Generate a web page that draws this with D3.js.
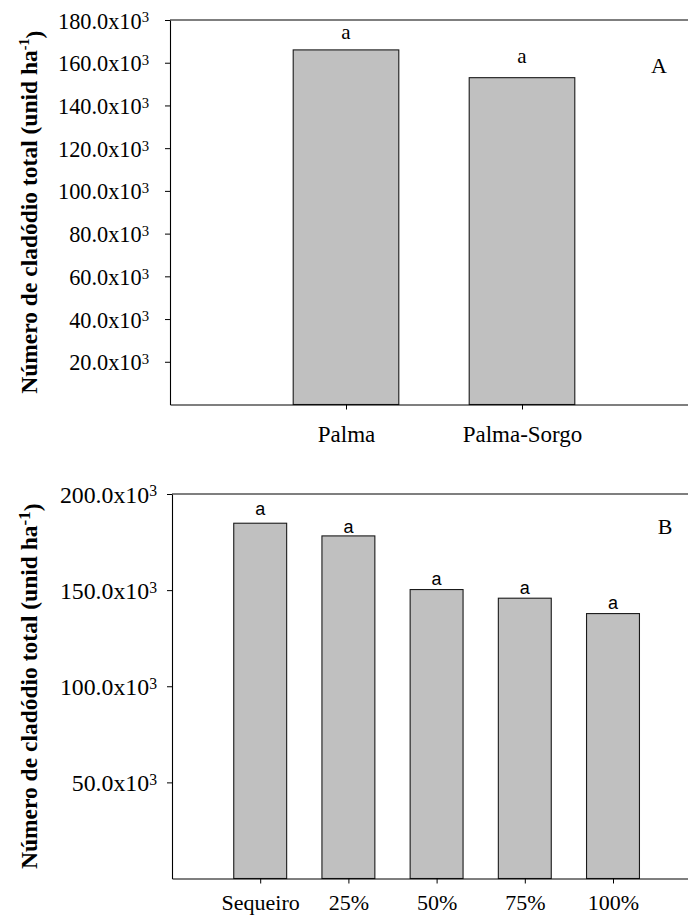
<!DOCTYPE html>
<html>
<head>
<meta charset="utf-8">
<script src="https://cdn.jsdelivr.net/npm/d3@7"></script>
<style>
  html, body { margin: 0; padding: 0; background: #fff; }
  svg { display: block; }
  .serif { font-family: "Liberation Serif", "Times New Roman", Times, serif; }
  .sans { font-family: "Liberation Sans", Arial, Helvetica, sans-serif; }
</style>
</head>
<body>
<script>
// ---------- DATA ----------
// Panel A
const catsA = ["Palma", "Palma-Sorgo"];
const valuesA = [166000, 153000];
const lettersA = ["a", "a"];
const letterAnchorA = [171000, 160000];   // data-unit anchor of the significance letters
const ticksA = [20000, 40000, 60000, 80000, 100000, 120000, 140000, 160000, 180000];
const panelA = "A";

// Panel B
const catsB = ["Sequeiro", "25%", "50%", "75%", "100%"];
const valuesB = [184800, 178200, 150300, 145800, 137800];
const lettersB = ["a", "a", "a", "a", "a"];
const letterAnchorB = [189000, 179700, 152700, 148000, 140400];
const ticksB = [50000, 100000, 150000, 200000];
const panelB = "B";

const yTitle = "Número de cladódio total (unid ha";

// ---------- DRAW ----------
const W = 688, H = 924;
const svg = d3.select("body").append("svg").attr("width", W).attr("height", H);

function fmtTick(sel, size) {
  sel.each(function(d) {
    const t = d3.select(this).text("");
    t.append("tspan").text((d / 1000).toFixed(1) + "x10");
    t.append("tspan").attr("dy", "-0.42em").attr("font-size", (size * 0.66) + "px").text("3");
  });
}

function panel(opts) {
  const g = svg.append("g");
  const x = d3.scaleLinear().domain([0, opts.cats.length + 1]).range([opts.left, opts.left + opts.step * (opts.cats.length + 1)]);
  const y = d3.scaleLinear().domain([0, opts.ymax]).range([opts.bottom, opts.top]);
  const bw = opts.step * 0.6;

  // bars
  g.selectAll("rect.bar").data(opts.values).join("rect")
    .attr("class", "bar")
    .attr("x", (d, i) => x(i + 1) - bw / 2)
    .attr("y", d => y(d))
    .attr("width", bw)
    .attr("height", d => y(0) - y(d))
    .attr("fill", "#c0c0c0")
    .attr("stroke", "#1a1a1a")
    .attr("stroke-width", 1.1);

  // top frame line
  g.append("line")
    .attr("x1", x(0)).attr("x2", x.range()[1])
    .attr("y1", y(opts.ymax)).attr("y2", y(opts.ymax))
    .attr("stroke", "#000").attr("stroke-width", 1.1);

  // y axis
  const ya = g.append("g").attr("transform", `translate(${x(0)},0)`)
    .call(d3.axisLeft(y).tickValues(opts.ticks).tickSize(5).tickSizeOuter(0).tickPadding(opts.ytPad));
  ya.select(".domain").attr("stroke", "#000").attr("stroke-width", 1.1);
  ya.selectAll(".tick line").attr("stroke", "#000");
  ya.selectAll(".tick text")
    .attr("class", "serif").attr("font-size", opts.ytSize + "px").attr("fill", "#000")
    .attr("dy", "0.36em")
    .call(fmtTick, opts.ytSize);

  // x axis
  const xa = g.append("g").attr("transform", `translate(0,${y(0)})`)
    .call(d3.axisBottom(x).tickValues(opts.cats.map((c, i) => i + 1))
      .tickFormat((d) => opts.cats[d - 1]).tickSize(5).tickSizeOuter(0).tickPadding(opts.xtPad));
  xa.select(".domain").attr("stroke", "#000").attr("stroke-width", 1.1);
  xa.selectAll(".tick line").attr("stroke", "#000");
  xa.selectAll(".tick text").attr("class", "serif").attr("font-size", opts.xtSize + "px").attr("fill", "#000");

  // significance letters
  g.selectAll("text.letter").data(opts.letters).join("text")
    .attr("class", "letter " + opts.letterFont)
    .attr("x", (d, i) => x(i + 1))
    .attr("y", (d, i) => y(opts.letterAnchor[i]))
    .attr("text-anchor", "middle")
    .attr("font-size", opts.letterSize + "px")
    .text(d => d);

  // panel label
  g.append("text").attr("class", "serif")
    .attr("x", opts.panelX).attr("y", opts.panelY)
    .attr("text-anchor", "middle").attr("font-size", "22px")
    .text(opts.panel);

  // y title
  const t = g.append("text").attr("class", "serif")
    .attr("transform", `translate(37,${(opts.top + opts.bottom) / 2}) rotate(-90)`)
    .attr("text-anchor", "middle").attr("font-weight", "bold").attr("font-size", opts.titleSize + "px");
  t.append("tspan").text(yTitle);
  t.append("tspan").attr("dy", opts.supDy).attr("font-size", opts.supSize).text("-1");
  t.append("tspan").attr("dy", opts.supBack).text(")");
}

panel({
  cats: catsA, values: valuesA, letters: lettersA, letterAnchor: letterAnchorA, ticks: ticksA,
  panel: panelA, ymax: 180000,
  left: 170, step: 176, top: 20, bottom: 404.5,
  ytSize: 22.3, ytPad: 16, xtSize: 23, xtPad: 16,
  letterFont: "serif", letterSize: 21,
  panelX: 659, panelY: 73,
  titleSize: 23.5, supDy: "-0.55em", supSize: "14px", supBack: "0.55em"
});

panel({
  cats: catsB, values: valuesB, letters: lettersB, letterAnchor: letterAnchorB, ticks: ticksB,
  panel: panelB, ymax: 200000,
  left: 172, step: 88.2, top: 494, bottom: 878.5,
  ytSize: 23.8, ytPad: 10, xtSize: 22, xtPad: 11,
  letterFont: "sans", letterSize: 18,
  panelX: 665, panelY: 534,
  titleSize: 23.5, supDy: "-0.4em", supSize: "17px", supBack: "0.4em"
});
</script>
</body>
</html>
